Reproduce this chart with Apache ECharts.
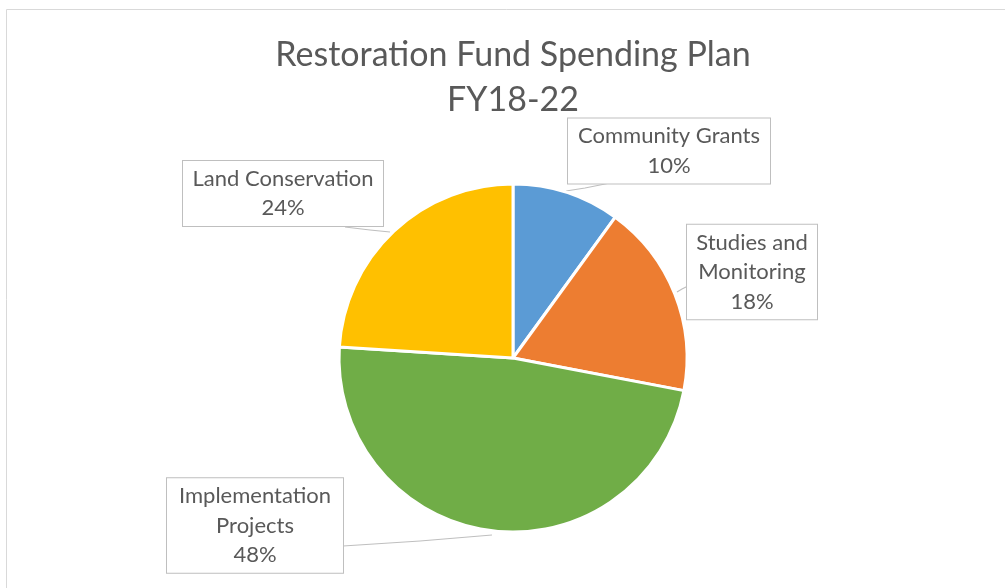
<!DOCTYPE html>
<html>
<head>
<meta charset="utf-8">
<script src="https://cdn.jsdelivr.net/npm/echarts@6/dist/echarts.min.js"></script>
<style>html,body{margin:0;padding:0;background:#fff;}#c{width:1005px;height:588px;}</style>
</head>
<body>
<div id="c"></div>
<script>
const categories = ['Community Grants', 'Studies and Monitoring', 'Implementation Projects', 'Land Conservation'];
const displayLabels = ['Community Grants', 'Studies and\nMonitoring', 'Implementation\nProjects', 'Land Conservation'];
const values = [10, 18, 48, 24];
const colors = ['#5B9BD5', '#ED7D31', '#70AD47', '#FFC000'];
const titleLines = ['Restoration Fund Spending Plan', 'FY18-22'];

// label box layout (centers, widths, leader line paths), not data
const labelBoxes = [
  { cx: 669, cy: 151, w: 184, line: [[566, 191], [585, 188], [610, 183]] },
  { cx: 752, cy: 272, w: 112, line: [[677, 292], [682, 289], [688, 286]] },
  { cx: 255, cy: 525.5, w: 158, line: [[492, 535], [420, 541], [343, 546]] },
  { cx: 283, cy: 193.5, w: 182, line: [[390, 232], [370, 230], [345, 227]] }
];

const chart = echarts.init(document.getElementById('c'));
const data = categories.map((name, i) => ({
  name: name,
  value: values[i],
  itemStyle: { color: colors[i] },
  label: { width: labelBoxes[i].w }
}));

chart.setOption({
  animation: false,
  graphic: [{
    type: 'rect',
    shape: { x: 6.5, y: 9.5, width: 1200, height: 800 },
    style: { fill: 'none', stroke: '#d9d9d9', lineWidth: 1 },
    silent: true
  }, {
    type: 'text',
    x: 513,
    y: 55,
    style: {
      text: titleLines[0],
      fontFamily: 'Lato', fontSize: 34, fill: '#595959', align: 'center', verticalAlign: 'middle'
    },
    silent: true
  }, {
    type: 'text',
    x: 513,
    y: 100,
    style: {
      text: titleLines[1],
      fontFamily: 'Lato', fontSize: 34, fill: '#595959', align: 'center', verticalAlign: 'middle'
    },
    silent: true
  }],
  series: [{
    type: 'pie',
    center: [513, 358],
    radius: [0, 174],
    startAngle: 90,
    clockwise: true,
    data: data,
    itemStyle: { borderColor: '#ffffff', borderWidth: 3 },
    label: {
      show: true,
      position: 'outside',
      formatter: function (p) { return displayLabels[p.dataIndex] + '\n' + p.value + '%'; },
      fontFamily: 'Lato',
      fontSize: 22,
      lineHeight: 29.5,
      color: '#595959',
      align: 'center',
      overflow: 'none',
      backgroundColor: '#ffffff',
      borderColor: '#bfbfbf',
      borderWidth: 1,
      padding: [3, 9, 3, 9]
    },
    labelLine: { show: true, length: 10, length2: 10, lineStyle: { color: '#bfbfbf', width: 1.2 } },
    labelLayout: function (params) {
      const b = labelBoxes[params.dataIndex];
      return { x: b.cx, y: b.cy, align: 'center', verticalAlign: 'middle', labelLinePoints: b.line };
    }
  }]
});
</script>
</body>
</html>
